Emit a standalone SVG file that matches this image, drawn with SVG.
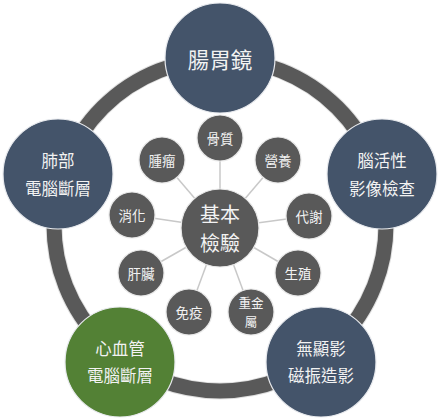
<svg xmlns="http://www.w3.org/2000/svg" width="440" height="420" viewBox="0 0 440 420">
<style>
.big{fill:#44546A;stroke:#E8EAEE;stroke-width:1.2}
.green{fill:#538135;stroke:#E8EAEE;stroke-width:1.2}
.small{fill:#595959;stroke:#E8E8E8;stroke-width:1.2}
.hub{fill:#595959;stroke:#E8E8E8;stroke-width:1.2}
text{font-family:"Noto Sans CJK TC","Noto Sans CJK JP",sans-serif;fill:#F2F2F2;text-anchor:middle;dominant-baseline:central}
.t1{font-size:21.5px}
.t2{font-size:16.5px}
.t3{font-size:13.5px}
.t4{font-size:12.5px}
.th{font-size:20px}
.spoke{stroke:#C8C8C8;stroke-width:1.5}
</style>
<rect width="440" height="420" fill="#FFFFFF"/>
<g id="ring">
<circle cx="220" cy="225" r="166" fill="none" stroke="#E0E0E0" stroke-width="17"/>
<circle cx="220" cy="225" r="166" fill="none" stroke="#595959" stroke-width="15"/>
</g>
<g id="connectors">
<line class="spoke" x1="220" y1="228" x2="220" y2="138"/>
<line class="spoke" x1="220" y1="228" x2="278" y2="160"/>
<line class="spoke" x1="220" y1="228" x2="309" y2="216"/>
<line class="spoke" x1="220" y1="228" x2="298" y2="273"/>
<line class="spoke" x1="220" y1="228" x2="251" y2="312"/>
<line class="spoke" x1="220" y1="228" x2="189" y2="312"/>
<line class="spoke" x1="220" y1="228" x2="141" y2="273"/>
<line class="spoke" x1="220" y1="228" x2="132" y2="215"/>
<line class="spoke" x1="220" y1="228" x2="162" y2="160"/>
</g>
<g id="n-top"><circle class="big" cx="220" cy="58" r="55"/><text class="t1" x="220" y="58">腸胃鏡</text></g>
<g id="n-left"><circle class="big" cx="58" cy="174" r="55"/><text class="t2" x="58" y="160">肺部</text><text class="t2" x="58" y="188">電腦斷層</text></g>
<g id="n-right"><circle class="big" cx="382" cy="174" r="55"/><text class="t2" x="382" y="160">腦活性</text><text class="t2" x="382" y="188">影像檢查</text></g>
<g id="n-bl"><circle class="green" cx="120" cy="362" r="55"/><text class="t2" x="120" y="348">心血管</text><text class="t2" x="120" y="375">電腦斷層</text></g>
<g id="n-br"><circle class="big" cx="321" cy="362" r="55"/><text class="t2" x="321" y="348">無顯影</text><text class="t2" x="321" y="375">磁振造影</text></g>
<g id="hub"><circle class="hub" cx="220" cy="228" r="39"/><text class="th" x="220" y="213.5">基本</text><text class="th" x="220" y="242.5">檢驗</text></g>
<g id="s1"><circle class="small" cx="220" cy="138" r="23"/><text class="t3" x="220" y="138">骨質</text></g>
<g id="s2"><circle class="small" cx="278" cy="160" r="23"/><text class="t3" x="278" y="160">營養</text></g>
<g id="s3"><circle class="small" cx="309" cy="216" r="23"/><text class="t3" x="309" y="216">代謝</text></g>
<g id="s4"><circle class="small" cx="298" cy="273" r="23"/><text class="t3" x="298" y="273">生殖</text></g>
<g id="s5"><circle class="small" cx="251" cy="312" r="23"/><text class="t4" x="251" y="302.5">重金</text><text class="t4" x="251" y="321">屬</text></g>
<g id="s6"><circle class="small" cx="189" cy="312" r="23"/><text class="t3" x="189" y="312">免疫</text></g>
<g id="s7"><circle class="small" cx="141" cy="273" r="23"/><text class="t3" x="141" y="273">肝臟</text></g>
<g id="s8"><circle class="small" cx="132" cy="215" r="23"/><text class="t3" x="132" y="215">消化</text></g>
<g id="s9"><circle class="small" cx="162" cy="160" r="23"/><text class="t3" x="162" y="160">腫瘤</text></g>
</svg>
